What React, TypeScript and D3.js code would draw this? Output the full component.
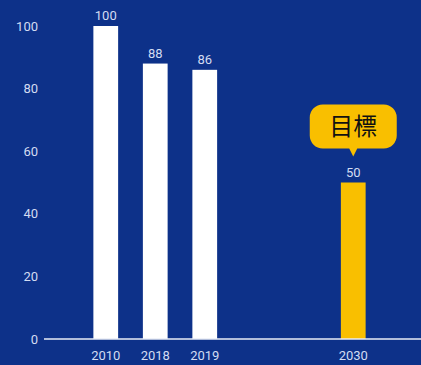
import React from "react";
import * as d3 from "d3";

const categories = ["2010", "2018", "2019", "gap1", "gap2", "2030"];
const labels = ["2010", "2018", "2019", "", "", "2030"];
const values = [100, 88, 86, null, null, 50];
const highlight = [false, false, false, false, false, true];
const yTicks = [0, 20, 40, 60, 80, 100];
const calloutText = "目標";

const W = 421;
const H = 365;
const BG = "#0d3189";
const TXT = "#d3dcf2";
const YEL = "#f9bf00";

export default function App() {
  const x = d3.scaleBand<string>().domain(categories).range([81, 378]).paddingInner(0.5).paddingOuter(0.25);
  const y = d3.scaleLinear().domain([0, 100]).range([339, 26]);
  const font = "Roboto, 'Noto Sans', sans-serif";
  const hi = categories.findIndex((_, i) => highlight[i]);
  const hx = (x(categories[hi]) as number) + x.bandwidth() / 2;
  const hy = y(values[hi] as number);
  const boxW = 87, boxH = 44, r = 13;
  const boxBottom = hy - 34;
  const boxTop = boxBottom - boxH;
  const bx = hx - boxW / 2;
  const calloutPath = d3.path();
  calloutPath.moveTo(bx + r, boxTop);
  calloutPath.lineTo(bx + boxW - r, boxTop);
  calloutPath.arcTo(bx + boxW, boxTop, bx + boxW, boxTop + r, r);
  calloutPath.lineTo(bx + boxW, boxBottom - r);
  calloutPath.arcTo(bx + boxW, boxBottom, bx + boxW - r, boxBottom, r);
  calloutPath.lineTo(hx + 4, boxBottom);
  calloutPath.lineTo(hx, boxBottom + 8);
  calloutPath.lineTo(hx - 4, boxBottom);
  calloutPath.lineTo(bx + r, boxBottom);
  calloutPath.arcTo(bx, boxBottom, bx, boxBottom - r, r);
  calloutPath.lineTo(bx, boxTop + r);
  calloutPath.arcTo(bx, boxTop, bx + r, boxTop, r);
  calloutPath.closePath();

  return (
    <svg width={W} height={H} style={{ position: "absolute", left: 0, top: 0, display: "block" }}>
      <rect x={0} y={0} width={W} height={H} fill={BG} />
      {yTicks.map((t) => (
        <text key={t} x={38} y={y(t)} dy="0.35em" textAnchor="end" fill={TXT} fontSize={13} fontFamily={font}>
          {t}
        </text>
      ))}
      {categories.map((c, i) =>
        values[i] == null ? null : (
          <g key={c}>
            <rect
              x={x(c)}
              y={y(values[i] as number)}
              width={x.bandwidth()}
              height={y(0) - y(values[i] as number)}
              fill={highlight[i] ? YEL : "#ffffff"}
            />
            <text
              x={(x(c) as number) + x.bandwidth() / 2}
              y={y(values[i] as number) - 6}
              textAnchor="middle"
              fill={TXT}
              fontSize={13}
              fontFamily={font}
            >
              {values[i]}
            </text>
          </g>
        )
      )}
      <line x1={44} x2={W} y1={y(0)} y2={y(0)} stroke="#e8ecf6" strokeWidth={1.5} />
      {categories.map((c, i) =>
        labels[i] ? (
          <text
            key={c + "l"}
            x={(x(c) as number) + x.bandwidth() / 2}
            y={360}
            textAnchor="middle"
            fill={TXT}
            fontSize={13}
            fontFamily={font}
          >
            {labels[i]}
          </text>
        ) : null
      )}
      <path d={calloutPath.toString()} fill={YEL} />
      <text
        x={hx}
        y={(boxTop + boxBottom) / 2}
        dy="0.36em"
        textAnchor="middle"
        fill="#111"
        fontSize={24}
        fontFamily="'Noto Sans CJK TC', 'Noto Sans CJK JP', sans-serif"
      >
        {calloutText}
      </text>
    </svg>
  );
}
